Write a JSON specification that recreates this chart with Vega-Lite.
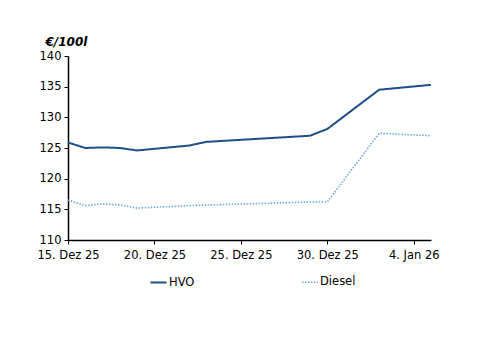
{
  "$schema": "https://vega.github.io/schema/vega-lite/v6.json",
  "width": 363,
  "height": 184,
  "autosize": {"type": "none"},
  "padding": {"left": 68, "top": 56, "right": 69, "bottom": 113},
  "background": "white",
  "config": {
    "font": "DejaVu Sans",
    "view": {"stroke": null}
  },
  "data": {
    "values": [
      {"date": "2025/12/15", "series": "HVO", "value": 125.9},
      {"date": "2025/12/16", "series": "HVO", "value": 125.0},
      {"date": "2025/12/17", "series": "HVO", "value": 125.1},
      {"date": "2025/12/18", "series": "HVO", "value": 125.0},
      {"date": "2025/12/19", "series": "HVO", "value": 124.6},
      {"date": "2025/12/22", "series": "HVO", "value": 125.4},
      {"date": "2025/12/23", "series": "HVO", "value": 126.0},
      {"date": "2025/12/29", "series": "HVO", "value": 127.0},
      {"date": "2025/12/30", "series": "HVO", "value": 128.1},
      {"date": "2026/01/02", "series": "HVO", "value": 134.5},
      {"date": "2026/01/05", "series": "HVO", "value": 135.3},
      {"date": "2025/12/15", "series": "Diesel", "value": 116.5},
      {"date": "2025/12/16", "series": "Diesel", "value": 115.6},
      {"date": "2025/12/17", "series": "Diesel", "value": 115.9},
      {"date": "2025/12/18", "series": "Diesel", "value": 115.7},
      {"date": "2025/12/19", "series": "Diesel", "value": 115.2},
      {"date": "2025/12/22", "series": "Diesel", "value": 115.6},
      {"date": "2025/12/23", "series": "Diesel", "value": 115.7},
      {"date": "2025/12/29", "series": "Diesel", "value": 116.2},
      {"date": "2025/12/30", "series": "Diesel", "value": 116.2},
      {"date": "2026/01/02", "series": "Diesel", "value": 127.4},
      {"date": "2026/01/05", "series": "Diesel", "value": 127.0}
    ]
  },
  "mark": {"type": "line", "strokeCap": "butt"},
  "encoding": {
    "x": {
      "field": "date",
      "type": "temporal",
      "scale": {
        "domain": [
          {"year": 2025, "month": 12, "date": 15},
          {"year": 2026, "month": 1, "date": 5}
        ]
      },
      "axis": {
        "title": null,
        "grid": false,
        "domainColor": "#000000",
        "domainWidth": 1.5,
        "tickColor": "#000000",
        "tickSize": 4,
        "labelColor": "#000000",
        "labelFontSize": 11.5,
        "labelPadding": 5,
        "labelFlush": false,
        "values": [
          {"year": 2025, "month": 12, "date": 15},
          {"year": 2025, "month": 12, "date": 20},
          {"year": 2025, "month": 12, "date": 25},
          {"year": 2025, "month": 12, "date": 30},
          {"year": 2026, "month": 1, "date": 4}
        ],
        "labelExpr": "date(datum.value) + '. ' + (month(datum.value) == 11 ? 'Dez' : 'Jan') + ' ' + timeFormat(datum.value, '%y')"
      }
    },
    "y": {
      "field": "value",
      "type": "quantitative",
      "scale": {"domain": [110, 140], "nice": false, "zero": false},
      "axis": {
        "values": [110, 115, 120, 125, 130, 135, 140],
        "grid": false,
        "domainColor": "#000000",
        "domainWidth": 1.5,
        "tickColor": "#000000",
        "tickSize": 4,
        "labelColor": "#000000",
        "labelFontSize": 11.5,
        "labelPadding": 3,
        "title": "€/100l",
        "titleAngle": 0,
        "titleAlign": "left",
        "titleBaseline": "middle",
        "titleX": -23,
        "titleY": -15,
        "titleFontStyle": "italic",
        "titleFontWeight": "bold",
        "titleFontSize": 12,
        "titleColor": "#000000"
      }
    },
    "color": {
      "field": "series",
      "type": "nominal",
      "scale": {"domain": ["HVO", "Diesel"], "range": ["#1f4e8c", "#6fa8e6"]},
      "legend": {
        "title": null,
        "orient": "none",
        "direction": "horizontal",
        "legendX": 81,
        "legendY": 217,
        "symbolType": "stroke",
        "symbolSize": 260,
        "symbolStrokeWidth": 2,
        "labelFontSize": 11.5,
        "labelColor": "#000000",
        "labelOffset": 1,
        "columnPadding": 103
      }
    },
    "strokeDash": {
      "field": "series",
      "type": "nominal",
      "scale": {"domain": ["HVO", "Diesel"], "range": [[1, 0], [1.5, 1.5]]},
      "legend": null
    },
    "strokeWidth": {
      "field": "series",
      "type": "nominal",
      "scale": {"domain": ["HVO", "Diesel"], "range": [2, 1.6]},
      "legend": null
    }
  }
}
